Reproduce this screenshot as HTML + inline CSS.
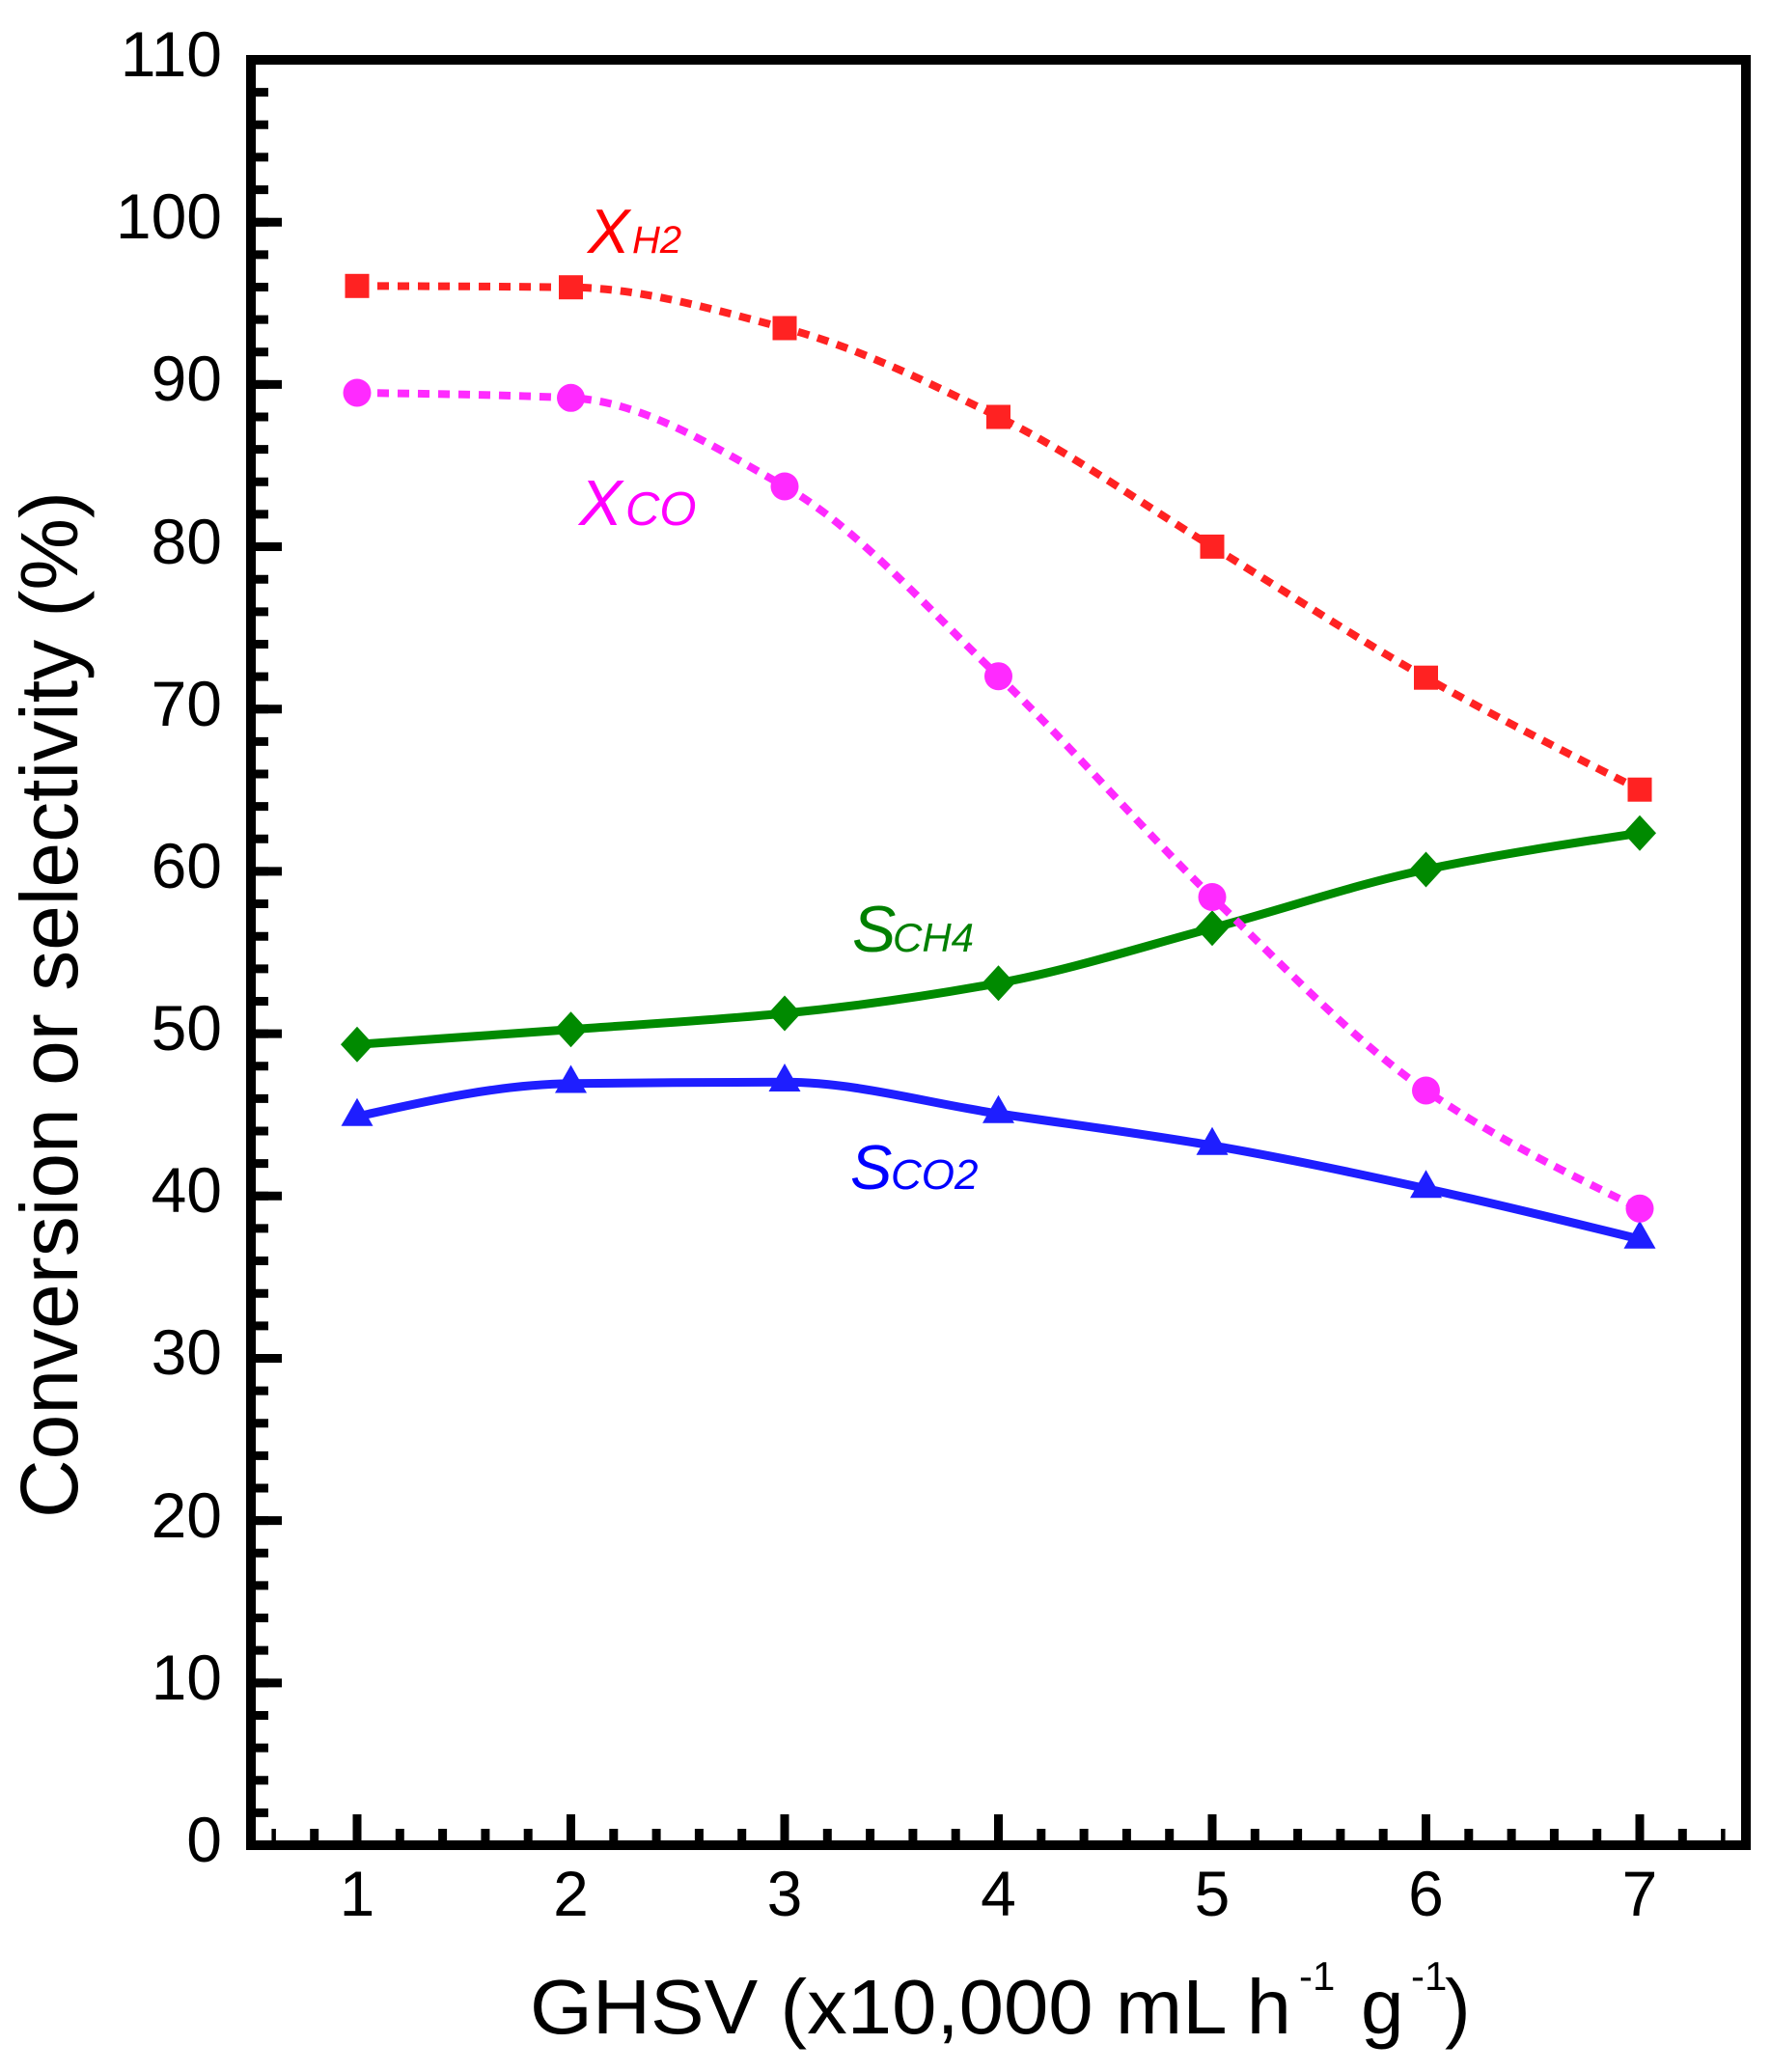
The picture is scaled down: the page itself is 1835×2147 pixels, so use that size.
<!DOCTYPE html>
<html>
<head>
<meta charset="utf-8">
<style>
html,body{margin:0;padding:0;background:#ffffff;}
svg{display:block;}
</style>
</head>
<body>
<svg width="1835" height="2147" viewBox="0 0 1835 2147" xmlns="http://www.w3.org/2000/svg" font-family="'Liberation Sans', Arial, sans-serif">
<defs>
  <path id="dia" d="M0,-18.5 L17,0 L0,18.5 L-17,0 Z"/>
  <path id="tri" d="M0,-19.3 L16.5,9.7 L-16.5,9.7 Z"/>
</defs>
<rect x="0" y="0" width="1835" height="2147" fill="#ffffff"/>

<!-- X_H2 red dotted -->
<path d="M370,296.3 C443.8,296.55 517.7,296.8 591.5,297.7 C665.3,298.6 739.2,320.7 813,340 C886.8,359.3 960.7,395.6 1034.5,432 C1108.3,468.4 1182.2,521.4 1256,566.4 C1329.8,611.4 1403.7,660.5 1477.5,702.2 C1551.3,743.9 1625.2,781.05 1699,818.2"
      fill="none" stroke="#ff2222" stroke-width="8" stroke-dasharray="12 9"/>
<g fill="#ff2222">
  <rect x="357.5" y="283.8" width="25" height="25"/>
  <rect x="579" y="285.2" width="25" height="25"/>
  <rect x="800.5" y="327.5" width="25" height="25"/>
  <rect x="1022" y="419.5" width="25" height="25"/>
  <rect x="1243.5" y="553.9" width="25" height="25"/>
  <rect x="1465" y="689.7" width="25" height="25"/>
  <rect x="1686.5" y="805.7" width="25" height="25"/>
</g>

<!-- S_CH4 green solid -->
<path d="M370,1082.3 C443.8,1077.19 517.7,1072.08 591.5,1066.7 C665.3,1061.32 739.2,1057.26 813,1050 C886.8,1042.74 960.7,1032.17 1034.5,1018.7 C1108.3,1005.23 1182.2,981.3 1256,961.7 C1329.8,942.1 1403.7,916.53 1477.5,901 C1551.3,885.47 1625.2,874.34 1699,863.2"
      fill="none" stroke="#008a00" stroke-width="9"/>
<g fill="#008a00">
  <use href="#dia" x="370" y="1082.3"/>
  <use href="#dia" x="591.5" y="1066.7"/>
  <use href="#dia" x="813" y="1050"/>
  <use href="#dia" x="1034.5" y="1018.7"/>
  <use href="#dia" x="1256" y="961.7"/>
  <use href="#dia" x="1477.5" y="901"/>
  <use href="#dia" x="1699" y="863.2"/>
</g>

<!-- S_CO2 blue solid -->
<path d="M370,1157 C443.8,1140.38 517.7,1123.76 591.5,1122.8 C665.3,1121.84 739.2,1121.3 813,1121.3 C886.8,1121.3 960.7,1143.05 1034.5,1154 C1108.3,1164.95 1182.2,1174.36 1256,1187 C1329.8,1199.64 1403.7,1215.54 1477.5,1231.6 C1551.3,1247.66 1625.2,1265.83 1699,1284"
      fill="none" stroke="#1e1eff" stroke-width="9"/>
<g fill="#1e1eff">
  <use href="#tri" x="370" y="1157"/>
  <use href="#tri" x="591.5" y="1122.8"/>
  <use href="#tri" x="813" y="1121.3"/>
  <use href="#tri" x="1034.5" y="1154"/>
  <use href="#tri" x="1256" y="1187"/>
  <use href="#tri" x="1477.5" y="1231.6"/>
  <use href="#tri" x="1699" y="1284"/>
</g>

<!-- X_CO magenta dotted -->
<path d="M370,407 C443.8,407.98 517.7,408.96 591.5,412.3 C665.3,415.64 739.2,462.31 813,504 C886.8,545.69 960.7,630.19 1034.5,700.7 C1108.3,771.21 1182.2,858.26 1256,929.5 C1329.8,1000.74 1403.7,1079.36 1477.5,1130 C1551.3,1180.64 1625.2,1216.47 1699,1252.3"
      fill="none" stroke="#ff2aff" stroke-width="8" stroke-dasharray="12 9"/>
<g fill="#ff2aff">
  <circle cx="370" cy="407" r="14.5"/>
  <circle cx="591.5" cy="412.3" r="14.5"/>
  <circle cx="813" cy="504" r="14.5"/>
  <circle cx="1034.5" cy="700.7" r="14.5"/>
  <circle cx="1256" cy="929.5" r="14.5"/>
  <circle cx="1477.5" cy="1130" r="14.5"/>
  <circle cx="1699" cy="1252.3" r="14.5"/>
</g>

<!-- Ticks: left axis -->
<line x1="269" y1="1912" x2="269" y2="62" stroke="#000" stroke-width="18" stroke-dasharray="4.5 24.636 4.5 0"/>
<line x1="276" y1="1912" x2="276" y2="62" stroke="#000" stroke-width="32" stroke-dasharray="4.5 159.18 4.5 0"/>
<!-- Ticks: bottom axis minor -->
<line x1="281.4" y1="1903.5" x2="1787.6" y2="1903.5" stroke="#000" stroke-width="17" stroke-dasharray="4.5 35.3 4.5 0"/>
<!-- Ticks: bottom axis major -->
<g stroke="#000" stroke-width="9">
  <line x1="370" y1="1912" x2="370" y2="1880"/>
  <line x1="591.5" y1="1912" x2="591.5" y2="1880"/>
  <line x1="813" y1="1912" x2="813" y2="1880"/>
  <line x1="1034.5" y1="1912" x2="1034.5" y2="1880"/>
  <line x1="1256" y1="1912" x2="1256" y2="1880"/>
  <line x1="1477.5" y1="1912" x2="1477.5" y2="1880"/>
  <line x1="1699" y1="1912" x2="1699" y2="1880"/>
</g>

<!-- Frame -->
<rect x="260" y="62" width="1549" height="1850" fill="none" stroke="#000" stroke-width="10"/>

<!-- Y tick labels -->
<g font-size="66" fill="#000" text-anchor="end">
  <text x="230" y="1929">0</text>
  <text x="230" y="1761">10</text>
  <text x="230" y="1593">20</text>
  <text x="230" y="1424">30</text>
  <text x="230" y="1256">40</text>
  <text x="230" y="1088">50</text>
  <text x="230" y="920">60</text>
  <text x="230" y="752">70</text>
  <text x="230" y="584">80</text>
  <text x="230" y="415">90</text>
  <text x="230" y="247">100</text>
  <text x="230" y="79">110</text>
</g>

<!-- X tick labels -->
<g font-size="66" fill="#000" text-anchor="middle">
  <text x="370" y="1985">1</text>
  <text x="591.5" y="1985">2</text>
  <text x="813" y="1985">3</text>
  <text x="1034.5" y="1985">4</text>
  <text x="1256" y="1985">5</text>
  <text x="1477.5" y="1985">6</text>
  <text x="1699" y="1985">7</text>
</g>

<!-- Axis titles -->
<text transform="translate(80,1573) rotate(-90)" font-size="84" fill="#000" textLength="1064" lengthAdjust="spacingAndGlyphs">Conversion or selectivity (%)</text>

<text x="549" y="2107" font-size="80" fill="#000" textLength="789" lengthAdjust="spacingAndGlyphs">GHSV (x10,000 mL h</text>
<text x="1346" y="2062" font-size="42" fill="#000">-1</text>
<text x="1410" y="2107" font-size="80" fill="#000">g</text>
<text x="1462" y="2062" font-size="42" fill="#000">-1</text>
<text x="1497" y="2107" font-size="80" fill="#000">)</text>

<!-- Series labels -->
<g font-style="italic">
  <text x="609" y="262" font-size="65" fill="#ff0000">X</text>
  <text x="655" y="262" font-size="40" fill="#ff0000">H2</text>

  <text x="600" y="544" font-size="67" fill="#ff00ff">X</text>
  <text x="648" y="544" font-size="49" fill="#ff00ff">CO</text>

  <text x="883" y="986" font-size="68" fill="#008000">S</text>
  <text x="925" y="986" font-size="42" fill="#008000">CH4</text>

  <text x="881" y="1232" font-size="65" fill="#0000ff">S</text>
  <text x="923" y="1232" font-size="44" fill="#0000ff">CO2</text>
</g>
</svg>
</body>
</html>
